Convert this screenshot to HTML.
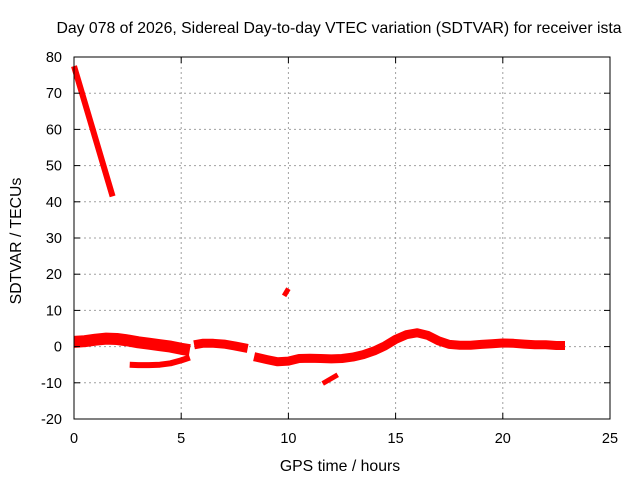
<!DOCTYPE html>
<html><head><meta charset="utf-8"><style>
body{margin:0;background:#fff;}
svg{display:block;font-family:"Liberation Sans",Arial,sans-serif;}
</style></head><body>
<svg width="640" height="480">
<rect width="640" height="480" fill="#fff"/>
<g id="grid"></g>
<g id="series"></g>
<rect x="74" y="57" width="536" height="362" fill="none" stroke="#000" stroke-width="1"/>
<g id="ticks"></g>
<text x="339" y="33" text-anchor="middle" font-size="15.8">Day 078 of 2026, Sidereal Day-to-day VTEC variation (SDTVAR) for receiver ista</text>
<text x="340" y="471" text-anchor="middle" font-size="15.8">GPS time / hours</text>
<text transform="translate(21,241) rotate(-90)" text-anchor="middle" font-size="15.8">SDTVAR / TECUs</text>
</svg>
<script>
const xTicks=[0,5,10,15,20,25];
const yTicks=[-20,-10,0,10,20,30,40,50,60,70,80];
const seg1X=[0,1.8];
const seg1Y=[77.5,41.5];
const seg2X=[0,0.5,1,1.5,2,2.5,3,3.5,4,4.5,5,5.4];
const seg2Y=[1.3,1.5,1.9,2.2,2.1,1.7,1.2,0.8,0.4,0,-0.6,-1];
const seg3X=[5.6,6,6.5,7,7.5,8.1];
const seg3Y=[0.5,0.9,0.9,0.7,0.2,-0.5];
const seg4X=[2.6,3,3.5,4,4.5,5,5.4];
const seg4Y=[-5,-5.1,-5.1,-5,-4.6,-3.8,-3];
const seg5X=[8.4,9,9.5,10,10.5,11,11.5,12,12.5,13,13.5,14,14.5,15,15.5,16,16.5,17,17.5,18,18.5,19,19.5,20,20.5,21,21.5,22,22.5,22.9];
const seg5Y=[-2.8,-3.6,-4.2,-4,-3.3,-3.2,-3.3,-3.4,-3.3,-2.9,-2.2,-1.2,0.2,2,3.3,3.8,3.1,1.6,0.6,0.4,0.4,0.6,0.8,1,0.9,0.7,0.5,0.5,0.3,0.3];
const seg6X=[9.8,10];
const seg6Y=[14,16];
const seg7X=[11.6,12.3];
const seg7Y=[-10.2,-7.8];
const NS="http://www.w3.org/2000/svg";
const L=74,R=610,T=57,B=419;
function sx(h){return L+(h-0)/25*(R-L);}
function sy(v){return B-(v+20)/100*(B-T);}
const grid=document.getElementById('grid'),ticks=document.getElementById('ticks'),ser=document.getElementById('series');
function mk(tag,attrs,parent){const e=document.createElementNS(NS,tag);for(const k in attrs)e.setAttribute(k,attrs[k]);parent.appendChild(e);return e;}
xTicks.forEach(t=>{const x=sx(t);
 if(t>0&&t<25){const g=mk('line',{x1:x,x2:x,y1:T,y2:B,stroke:'#a0a0a0','stroke-dasharray':'2,3'},grid);
 
 }
 const a=mk('line',{x1:x,x2:x,y1:B,y2:B-6,stroke:'#000'},ticks);
 
 
 const b=mk('line',{x1:x,x2:x,y1:T,y2:T+6,stroke:'#000'},ticks);
 
 
 const tx=mk('text',{x:x,y:B+24,'text-anchor':'middle','font-size':'14.5'},ticks);tx.textContent=t;
 
 
});
yTicks.forEach(t=>{const y=sy(t);
 if(t>-20&&t<80){const g=mk('line',{x1:L,x2:R,y1:y,y2:y,stroke:'#a0a0a0','stroke-dasharray':'2,3'},grid);
 
 }
 const a=mk('line',{x1:L,x2:L+6,y1:y,y2:y,stroke:'#000'},ticks);
 
 
 const b=mk('line',{x1:R,x2:R-6,y1:y,y2:y,stroke:'#000'},ticks);
 
 
 const tx=mk('text',{x:L-12,y:y+5,'text-anchor':'end','font-size':'14.5'},ticks);tx.textContent=t;
 
 
});
function band(xs,ys,w,name){const pts=xs.map((h,i)=>sx(h).toFixed(1)+','+sy(ys[i]).toFixed(1)).join(' ');
 const p=mk('polyline',{points:pts,fill:'none',stroke:'#ff0000','stroke-width':w,'stroke-linejoin':'round','stroke-linecap':'butt'},ser);
 
 }
band(seg1X,seg1Y,6,'series-descending-arc');
band(seg2X,seg2Y,12,'series-main-band-early');
band(seg3X,seg3Y,9,'series-band-morning');
band(seg4X,seg4Y,6,'series-lower-band');
band(seg5X,seg5Y,9,'series-main-band-late');
band(seg6X,seg6Y,5,'series-spike-10h');
band(seg7X,seg7Y,5,'series-dip-12h');
</script>
</body></html>
